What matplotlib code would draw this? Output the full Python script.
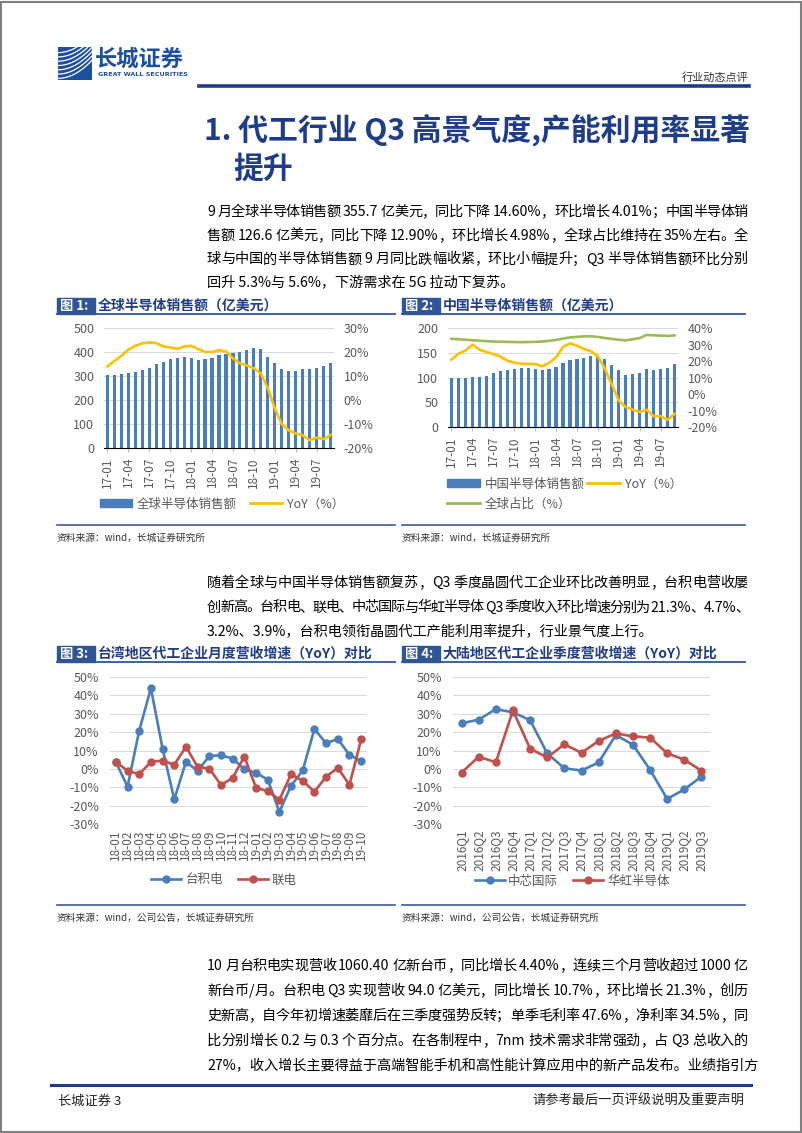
import re
import numpy as np
import matplotlib as mpl
import matplotlib.pyplot as plt
from matplotlib.patches import Rectangle, Patch
from matplotlib.lines import Line2D
from matplotlib.font_manager import FontProperties
from matplotlib.ticker import FuncFormatter

mpl.rcParams.update({"font.family": ["Noto Sans CJK SC", "DejaVu Sans"],
                     "axes.unicode_minus": False})

W, H = 802, 1133
NAVY = "#1f3c88"; TAG = "#2f5597"; BAR = "#4a7ebb"; GOLD = "#ffc000"
GREEN = "#9bbb59"; RED = "#c0504d"; GREY = "#595959"; GRID = "#d9d9d9"

# ---- chart data ----
months = [f"{y}-{m:02d}" for y in (17, 18, 19) for m in range(1, 13)][:33]
global_sales = [305, 303, 308, 313, 318, 326, 335, 350, 359, 371, 377, 380,
                376, 368, 371, 376, 387, 392, 395, 401, 408, 417, 413, 381,
                355, 329, 322, 321, 330, 328, 334, 342, 356]
global_yoy = [14.0, 16.3, 18.4, 21.0, 22.6, 23.6, 24.0, 23.7, 22.3, 21.9, 21.3, 22.3,
              22.6, 21.2, 20.0, 20.0, 20.8, 20.2, 17.4, 15.3, 14.4, 13.2, 11.0, 5.0,
              -3.5, -10.0, -12.6, -14.0, -14.7, -16.8, -15.7, -16.3, -14.6]
china_sales = [100, 100, 100, 101, 102, 104, 110, 113, 116, 118, 119, 120,
               118, 116, 118, 122, 130, 135, 138, 140, 143, 141, 138, 126,
               116, 106, 107, 109, 118, 116, 117, 120, 126.6]
china_yoy = [20.8, 24.4, 26.3, 29.9, 26.9, 25.5, 24.2, 22.8, 20.2, 19.0, 18.4, 18.2,
             18.2, 16.8, 18.8, 22.2, 28.5, 30.7, 29.3, 27.3, 25.9, 22.8, 15.4, 5.7,
             -4.0, -8.0, -9.5, -10.9, -9.5, -13.5, -13.5, -15.6, -12.1]
china_share = [33.5, 33.2, 32.9, 32.6, 32.3, 32.0, 31.8, 31.7, 31.6, 31.5, 31.4, 31.5,
               31.6, 31.8, 32.2, 32.8, 33.6, 34.3, 34.6, 34.9, 35.0, 34.6, 33.9, 33.4,
               32.9, 32.5, 33.2, 33.9, 35.8, 35.6, 35.4, 35.2, 35.5]

tw_months = ["18-01", "18-02", "18-03", "18-04", "18-05", "18-06", "18-07", "18-08",
             "18-09", "18-10", "18-11", "18-12", "19-01", "19-02", "19-03", "19-04",
             "19-05", "19-06", "19-07", "19-08", "19-09", "19-10"]
tsmc = [3.8, -9.7, 20.8, 43.9, 11.0, -16.6, 3.8, -1.1, 7.0, 7.4, 5.6, -0.2,
        -2.2, -5.8, -23.3, -9.2, -0.8, 21.7, 13.9, 16.3, 7.5, 4.4]
umc = [3.8, -1.0, -2.9, 3.8, 4.5, 2.2, 12.1, 1.1, 0.2, -8.8, -4.9, 6.7,
       -10.3, -12.1, -16.8, -2.9, -6.5, -12.5, -4.2, 0.5, -8.7, 16.1]

quarters = ["2016Q1", "2016Q2", "2016Q3", "2016Q4", "2017Q1", "2017Q2", "2017Q3",
            "2017Q4", "2018Q1", "2018Q2", "2018Q3", "2018Q4", "2019Q1", "2019Q2", "2019Q3"]
smic = [24.8, 26.8, 32.5, 30.8, 26.5, 8.4, 0.3, -0.9, 3.5, 18.4, 13.2, -0.5, -16.3, -11.2, -4.2]
huahong = [-2.0, 6.6, 3.6, 31.8, 11.0, 6.2, 13.4, 8.7, 15.2, 19.3, 17.7, 17.0, 8.5, 5.0, -1.0]

# ---- text ----
title1 = "1. 代工行业 Q3 高景气度,产能利用率显著"
title2 = "提升"
para1 = ["9 月全球半导体销售额 355.7 亿美元，同比下降 14.60%，环比增长 4.01%；中国半导体销",
         "售额 126.6 亿美元，同比下降 12.90%，环比增长 4.98%，全球占比维持在 35%左右。全",
         "球与中国的半导体销售额 9 月同比跌幅收紧，环比小幅提升；Q3 半导体销售额环比分别",
         "回升 5.3%与 5.6%，下游需求在 5G 拉动下复苏。"]
para2 = ["随着全球与中国半导体销售额复苏，Q3 季度晶圆代工企业环比改善明显，台积电营收屡",
         "创新高。台积电、联电、中芯国际与华虹半导体 Q3 季度收入环比增速分别为 21.3%、4.7%、",
         "3.2%、3.9%，台积电领衔晶圆代工产能利用率提升，行业景气度上行。"]
para3 = ["10 月台积电实现营收 1060.40 亿新台币，同比增长 4.40%，连续三个月营收超过 1000 亿",
         "新台币/月。台积电 Q3 实现营收 94.0 亿美元，同比增长 10.7%，环比增长 21.3%，创历",
         "史新高，自今年初增速萎靡后在三季度强势反转；单季毛利率 47.6%，净利率 34.5%，同",
         "比分别增长 0.2 与 0.3 个百分点。在各制程中，7nm 技术需求非常强劲，占 Q3 总收入的",
         "27%，收入增长主要得益于高端智能手机和高性能计算应用中的新产品发布。业绩指引方"]

fig = plt.figure(figsize=(W / 100, H / 100), dpi=100)
R = fig.canvas.get_renderer()


def fx(x): return x / W
def fy(y): return 1 - y / H


def put(x, y, s, **kw):
    kw.setdefault("va", "center")
    return fig.text(fx(x), fy(y), s, **kw)


def hline(x0, x1, y, color, lw):
    fig.add_artist(Line2D([fx(x0), fx(x1)], [fy(y), fy(y)], color=color, lw=lw))


def ax_at(l, t, r, b):
    return fig.add_axes([fx(l), fy(b), (r - l) / W, (b - t) / H])


BODY = FontProperties(family=["Noto Sans CJK SC", "DejaVu Sans"], size=10.2)


def para(lines, y0, step=24.5, x0=207, x1=748):
    # justified lines, last line left aligned
    for i, s in enumerate(lines):
        y = y0 + i * step
        if i == len(lines) - 1:
            put(x0, y, s, fontproperties=BODY)
            continue
        toks = re.findall(r"[\x21-\x7e]+|.", s)
        ws = [R.get_text_width_height_descent(t, BODY, ismath=False)[0] for t in toks]
        gap = max((x1 - x0 - sum(ws)) / (len(toks) - 1), -1)
        x = x0
        for t, w in zip(toks, ws):
            put(x, y, t, fontproperties=BODY)
            x += w + gap


def style(ax, right=None, pad=7):
    for a in [ax] + ([right] if right else []):
        for s in ("top", "right", "left"):
            a.spines[s].set_visible(False)
        a.tick_params(axis="y", length=0, labelsize=9, labelcolor=GREY, pad=pad)
    ax.spines["bottom"].set_color("#bfbfbf")
    ax.tick_params(axis="x", labelsize=8.5, labelcolor=GREY, color="#bfbfbf", length=3)
    ax.grid(axis="y", color=GRID, linewidth=0.7)
    ax.set_axisbelow(True)


pct = FuncFormatter(lambda v, p: f"{v:.0f}%")


def fig_title(x0, x1, y, num, text):
    fig.add_artist(Rectangle((fx(x0), fy(y + 8)), 38 / W, 16 / H, color=TAG))
    put(x0 + 3, y, f"图 {num}:", color="white", fontsize=9.5, fontweight="bold")
    put(x0 + 41, y, text, color=NAVY, fontsize=10, fontweight="bold")
    hline(x0, x1, y + 8, TAG, 1.3)


def source(x0, x1, y, text):
    hline(x0, x1, y, "#3a5a9a", 1.2)
    put(x0, y + 13, text, fontsize=7, color="#333333")


# ---- page frame, header ----
fig.add_artist(Rectangle((0.001, 0.001), 0.998, 0.997, fill=False, ec="#808080", lw=1.5))
lg = ax_at(58, 47, 92, 80)
lg.set_facecolor("#1c4f9f")
u = np.linspace(0, 1, 50)
for k in range(7):
    lg.plot(u, 0.05 + k * 0.13 + 0.55 * u ** 2, color="white", lw=0.9)
lg.set_xlim(0, 1); lg.set_ylim(0, 1); lg.set_xticks([]); lg.set_yticks([])
for s in lg.spines.values():
    s.set_visible(False)
put(95, 59, "长城证券", fontsize=16, fontweight="bold", color="#1c4f9f")
put(98, 74, "GREAT WALL SECURITIES", fontsize=4.6, fontweight="bold", color="#1c4f9f",
    family="DejaVu Sans")
put(748, 77, "行业动态点评", fontsize=8, color="#333333", ha="right")
hline(199, 749, 86, NAVY, 2.6)
put(204, 130, title1, fontsize=21.5, fontweight="bold", color=NAVY)
put(233, 169, title2, fontsize=21.5, fontweight="bold", color=NAVY)

para(para1, 212, 23.7)
para(para2, 583, 24.5)
para(para3, 966, 25)

# ---- figure 1: global sales ----
fig_title(57, 395, 306, 1, "全球半导体销售额（亿美元）")
x = np.arange(len(months))
a1 = ax_at(104, 328, 334, 448)
a1.bar(x, global_sales, width=0.45, color=BAR, zorder=3)
a1.set_ylim(0, 500); a1.set_yticks(range(0, 501, 100))
a1.set_xlim(-0.5, len(x) - 0.5)
a1.set_xticks(x[::3]); a1.set_xticklabels(months[::3], rotation=90)
b1 = a1.twinx()
b1.plot(x, global_yoy, color=GOLD, lw=1.9)
b1.set_ylim(-20, 30); b1.set_yticks(range(-20, 31, 10)); b1.yaxis.set_major_formatter(pct)
style(a1, b1)
a1.legend([Patch(color=BAR), Line2D([], [], color=GOLD, lw=2)],
          ["全球半导体销售额", "YoY（%）"], loc="center", ncol=2, frameon=False,
          bbox_to_anchor=(fx(222), fy(504)), bbox_transform=fig.transFigure,
          fontsize=9, labelcolor=GREY, handlelength=2.6, handleheight=0.6,
          columnspacing=1.0, handletextpad=0.4)
source(57, 395, 525, "资料来源：wind，长城证券研究所")

# ---- figure 2: china sales ----
fig_title(402, 745, 306, 2, "中国半导体销售额（亿美元）")
a2 = ax_at(448, 328, 678, 427)
a2.bar(x, china_sales, width=0.45, color=BAR, zorder=3)
a2.set_ylim(0, 200); a2.set_yticks(range(0, 201, 50))
a2.set_xlim(-0.5, len(x) - 0.5)
a2.set_xticks(x[::3]); a2.set_xticklabels(months[::3], rotation=90)
b2 = a2.twinx()
b2.plot(x, china_share, color=GREEN, lw=1.9)
b2.plot(x, china_yoy, color=GOLD, lw=1.9)
b2.set_ylim(-20, 40); b2.set_yticks(range(-20, 41, 10)); b2.yaxis.set_major_formatter(pct)
style(a2, b2)
a2.legend([Patch(color=BAR), Line2D([], [], color=GREEN, lw=2), Line2D([], [], color=GOLD, lw=2)],
          ["中国半导体销售额", "全球占比（%）", "YoY（%）"], loc="center left", ncol=2,
          frameon=False, bbox_to_anchor=(fx(436), fy(494)), bbox_transform=fig.transFigure,
          fontsize=9, labelcolor=GREY, handlelength=2.6, handleheight=0.6,
          columnspacing=0.2, handletextpad=0.4, labelspacing=0.55)
source(402, 745, 525, "资料来源：wind，长城证券研究所")

# ---- figure 3: taiwan foundries ----
fig_title(57, 395, 654, 3, "台湾地区代工企业月度营收增速（YoY）对比")
a3 = ax_at(110, 677, 367, 824)
k = np.arange(len(tw_months))
a3.plot(k, tsmc, color=BAR, lw=1.9, marker="o", ms=5, zorder=3)
a3.plot(k, umc, color=RED, lw=1.9, marker="o", ms=5, zorder=3)
a3.set_ylim(-30, 50); a3.set_yticks(range(-30, 51, 10)); a3.yaxis.set_major_formatter(pct)
a3.set_xlim(-0.5, len(k) - 0.5)
a3.set_xticks(k); a3.set_xticklabels(tw_months, rotation=90)
style(a3, pad=8)
a3.spines["bottom"].set_visible(False)
a3.tick_params(axis="x", length=0, pad=4)
a3.legend(["台积电", "联电"], loc="center", ncol=2, frameon=False,
          bbox_to_anchor=(fx(224), fy(880)), bbox_transform=fig.transFigure,
          fontsize=9, labelcolor=GREY, handlelength=2.4, columnspacing=1.2, handletextpad=0.3)
source(57, 395, 905, "资料来源：wind，公司公告，长城证券研究所")

# ---- figure 4: mainland foundries ----
fig_title(402, 745, 654, 4, "大陆地区代工企业季度营收增速（YoY）对比")
a4 = ax_at(453, 677, 710, 824)
q = np.arange(len(quarters))
a4.plot(q, smic, color=BAR, lw=1.9, marker="o", ms=5, zorder=3)
a4.plot(q, huahong, color=RED, lw=1.9, marker="o", ms=5, zorder=3)
a4.set_ylim(-30, 50); a4.set_yticks(range(-30, 51, 10)); a4.yaxis.set_major_formatter(pct)
a4.set_xlim(-0.5, len(q) - 0.5)
a4.set_xticks(q); a4.set_xticklabels(quarters, rotation=90)
style(a4, pad=8)
a4.spines["bottom"].set_visible(False)
a4.tick_params(axis="x", length=0, pad=4)
a4.legend(["中芯国际", "华虹半导体"], loc="center", ncol=2, frameon=False,
          bbox_to_anchor=(fx(572), fy(881)), bbox_transform=fig.transFigure,
          fontsize=9, labelcolor=GREY, handlelength=2.4, columnspacing=1.2, handletextpad=0.3)
source(402, 745, 905, "资料来源：wind，公司公告，长城证券研究所")

# ---- footer ----
hline(51, 751, 1085, NAVY, 2.2)
put(58, 1101, "长城证券 3", fontsize=9.5, color="#222222")
put(744, 1101, "请参考最后一页评级说明及重要声明", fontsize=9.5, color="#222222", ha="right")

fig.savefig("out.png", dpi=100)
